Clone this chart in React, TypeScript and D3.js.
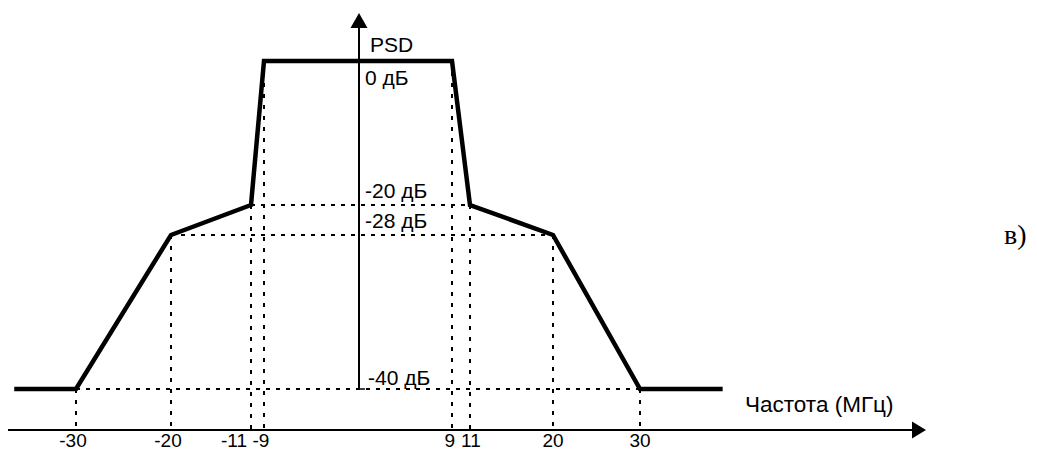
import React, { useEffect, useRef } from "react";
import * as d3 from "d3";

// spectrum mask (MHz / dB)
const maskFreq = [-36.5, -30, -20, -11, -9, 9, 11, 20, 30, 39.5];
const maskLevel = [-40, -40, -28, -20, 0, 0, -20, -28, -40, -40];
const xTicks = [-30, -20, -11, -9, 9, 11, 20, 30];
const yLabels = [0, -20, -28, -40];

const W = 1037;
const H = 452;

const App = () => {
  const ref = useRef<SVGSVGElement>(null);

  useEffect(() => {
    const svg = d3.select(ref.current);
    svg.selectAll("*").remove();

    // the drawing is a schematic, not to scale -> piecewise scales
    const x = d3
      .scaleLinear()
      .domain([-30, -20, -11, -9, 0, 9, 11, 20, 30])
      .range([76, 171, 251, 264, 359, 452, 470, 553, 640]);
    const y = d3
      .scaleLinear()
      .domain([-40, -28, -20, 0])
      .range([389, 235, 205, 61]);

    const axisY = 430;
    const font = "'Liberation Sans', Arial, sans-serif";
    const pts = maskFreq.map((f, i) => [f, maskLevel[i]] as [number, number]);

    // dotted guides
    const g = svg.append("g").attr("stroke", "#000").attr("fill", "none");
    const corners = pts.slice(1, -1);
    corners.forEach(([f, l]) => {
      g.append("line")
        .attr("x1", x(f))
        .attr("x2", x(f))
        .attr("y1", y(l))
        .attr("y2", axisY)
        .attr("stroke-width", 2)
        .attr("stroke-dasharray", "4 7");
    });
    corners
      .filter(([f, l]) => f < 0 && l < 0)
      .forEach(([f, l]) => {
        g.append("line")
          .attr("x1", x(f))
          .attr("x2", x(-f))
          .attr("y1", y(l))
          .attr("y2", y(l))
          .attr("stroke-width", 2)
          .attr("stroke-dasharray", "4 6");
      });

    // axes
    const xEnd = 912;
    svg
      .append("line")
      .attr("x1", 8)
      .attr("x2", xEnd)
      .attr("y1", axisY)
      .attr("y2", axisY)
      .attr("stroke", "#000")
      .attr("stroke-width", 2);
    svg
      .append("path")
      .attr("d", `M${xEnd},${axisY - 8.5}L${xEnd + 14},${axisY}L${xEnd},${axisY + 8.5}Z`)
      .attr("fill", "#000");

    const x0 = x(0);
    const yTop = 28;
    svg
      .append("line")
      .attr("x1", x0)
      .attr("x2", x0)
      .attr("y1", y(-40) + 1)
      .attr("y2", yTop)
      .attr("stroke", "#000")
      .attr("stroke-width", 2);
    svg
      .append("line")
      .attr("x1", x0)
      .attr("x2", x0 + 6)
      .attr("y1", y(-40))
      .attr("y2", y(-40))
      .attr("stroke", "#000")
      .attr("stroke-width", 1.5);
    svg
      .append("path")
      .attr("d", `M${x0 - 8.5},${yTop}L${x0},${yTop - 15}L${x0 + 8.5},${yTop}Z`)
      .attr("fill", "#000");

    // mask
    svg
      .append("path")
      .datum(pts)
      .attr(
        "d",
        d3
          .line<[number, number]>()
          .x((d) => x(d[0]))
          .y((d) => y(d[1]))
      )
      .attr("fill", "none")
      .attr("stroke", "#000")
      .attr("stroke-width", 4.5)
      .attr("stroke-linejoin", "miter");

    // labels
    svg
      .selectAll(".ylab")
      .data(yLabels)
      .enter()
      .append("text")
      .attr("x", (d) => x0 + (d === -40 ? 9 : 6))
      .attr("y", (d) => y(d) + (d === 0 ? 24 : d === -40 ? -4 : -7))
      .attr("font-family", font)
      .attr("font-size", 21)
      .text((d) => `${d} дБ`);

    svg
      .append("text")
      .attr("x", x0 + 11)
      .attr("y", 52)
      .attr("font-family", font)
      .attr("font-size", 21)
      .text("PSD");

    // crowded inner ticks get pushed apart
    const tickDx = (d: number) =>
      d === -11 ? -4 : d === 9 ? 3 : d === 11 ? -9 : d < 0 ? -3 : 0;
    const tickAnchor = (d: number) =>
      d === -11 || d === 9 ? "end" : d === 11 ? "start" : "middle";
    svg
      .selectAll(".xlab")
      .data(xTicks)
      .enter()
      .append("text")
      .attr("x", (d) => x(d) + tickDx(d))
      .attr("y", 447)
      .attr("text-anchor", tickAnchor)
      .attr("font-family", font)
      .attr("font-size", 19)
      .text((d) => d);

    svg
      .append("text")
      .attr("x", 745)
      .attr("y", 412)
      .attr("font-family", font)
      .attr("font-size", 22.5)
      .text("Частота (МГц)");

    svg
      .append("text")
      .attr("x", 1004)
      .attr("y", 244)
      .attr("font-family", "'Liberation Serif', 'Times New Roman', serif")
      .attr("font-size", 28)
      .text("в)");
  }, []);

  return (
    <svg
      ref={ref}
      width={W}
      height={H}
      style={{ position: "absolute", left: 0, top: 0, background: "#fff" }}
    ></svg>
  );
};

export default App;
